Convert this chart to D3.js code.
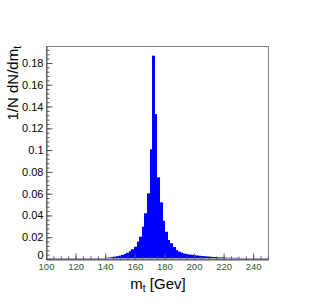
<!DOCTYPE html>
<html>
<head>
<meta charset="utf-8">
<script src="https://cdn.jsdelivr.net/npm/d3@7"></script>
<style>
  html, body { margin: 0; padding: 0; background: #fff; }
  svg { display: block; font-family: "Liberation Sans", Arial, sans-serif; }
</style>
</head>
<body>
<div id="app"></div>
<script>
// histogram of m_t, first bin starts at 100 GeV
const binStart = 100;
const binWidth = 1.75;
const values = [
  0.0002, 0.0002, 0.0002, 0.0002, 0.0002, 0.0002, 0.0002, 0.0002, 0.0002, 0.0002,
  0.0002, 0.0002, 0.0002, 0.0002, 0.0002, 0.0002, 0.0003, 0.0003, 0.0004, 0.0005,
  0.0006, 0.0007, 0.0009, 0.0011, 0.0014, 0.0017, 0.0021, 0.0026, 0.0031, 0.0038,
  0.0047, 0.0058, 0.0072, 0.0090, 0.0113, 0.0160, 0.0205, 0.0297, 0.0420, 0.0603,
  0.1007, 0.1867, 0.1330, 0.0750, 0.0520, 0.0350, 0.0250, 0.0175, 0.0145, 0.0110,
  0.0082, 0.0068, 0.0058, 0.0050, 0.0045, 0.0041, 0.0038, 0.0035, 0.0032, 0.0030,
  0.0027, 0.0025, 0.0023, 0.0021, 0.0019, 0.0018, 0.0016, 0.0015, 0.0014, 0.0013,
  0.0012, 0.0012, 0.0011, 0.0011, 0.0010, 0.0010, 0.0009, 0.0009, 0.0009, 0.0008,
  0.0008, 0.0008, 0.0007, 0.0007, 0.0007, 0.0006
];
const xDomain = [100, 250];
const yDomain = [0, 0.1956];
const xTicks = [100, 120, 140, 160, 180, 200, 220, 240];
const yTicks = [0, 0.02, 0.04, 0.06, 0.08, 0.1, 0.12, 0.14, 0.16, 0.18];
const yTickLabels = ["0", "0.02", "0.04", "0.06", "0.08", "0.1", "0.12", "0.14", "0.16", "0.18"];
const xTitle = "m";
const xTitleSub = "t";
const xTitleRest = " [Gev]";
const yTitle = "1/N dN/dm";
const yTitleSub = "t";

const W = 316, H = 306;
const FRAME = { LEFT: 46, RIGHT: 268, TOP: 46, BOTTOM: 259 };

const svg = d3.select("#app").append("svg").attr("width", W).attr("height", H);

const x = d3.scaleLinear().domain(xDomain).range([FRAME.LEFT, FRAME.RIGHT]);
const y = d3.scaleLinear().domain(yDomain).range([FRAME.BOTTOM, FRAME.TOP]);

// clip
svg.append("clipPath").attr("id", "frameclip")
  .append("rect")
  .attr("x", FRAME.LEFT).attr("y", FRAME.TOP)
  .attr("width", FRAME.RIGHT - FRAME.LEFT).attr("height", FRAME.BOTTOM - FRAME.TOP);

const g = svg.append("g").attr("clip-path", "url(#frameclip)");

// one rect per bin, edges snapped to whole pixels so neighbours touch
const x0 = i => Math.round(x(binStart + i * binWidth));
g.selectAll("rect.bin")
  .data(values)
  .enter()
  .append("rect")
  .attr("class", "bin")
  .attr("x", (d, i) => x0(i))
  .attr("width", (d, i) => x0(i + 1) - x0(i))
  .attr("y", d => y(d))
  .attr("height", d => y(0) - y(d))
  .attr("fill", "#0000ff");

// faint baseline under the near-empty bins
g.append("line")
  .attr("x1", x(xDomain[0])).attr("x2", x(xDomain[1]))
  .attr("y1", y(0) - 0.5).attr("y2", y(0) - 0.5)
  .attr("stroke", "#a0a0c8").attr("stroke-width", 1);

// frame
svg.append("rect")
  .attr("x", FRAME.LEFT + 0.5).attr("y", FRAME.TOP + 0.5)
  .attr("width", FRAME.RIGHT - FRAME.LEFT).attr("height", FRAME.BOTTOM - FRAME.TOP)
  .attr("fill", "none").attr("stroke", "#808080").attr("stroke-width", 1);

// y minor ticks
const yMinor = d3.range(0, 49).map(i => i * 0.004).filter(v => v <= yDomain[1]);
svg.append("g")
  .attr("transform", `translate(${FRAME.LEFT + 0.5},0)`)
  .call(d3.axisLeft(y).tickValues(yMinor).tickFormat("").tickSizeInner(-3).tickSizeOuter(0))
  .call(a => a.select(".domain").remove())
  .selectAll("line").attr("stroke", "#555");

// y major ticks
const yAxis = svg.append("g")
  .attr("transform", `translate(${FRAME.LEFT + 0.5},0)`)
  .call(d3.axisLeft(y).tickValues(yTicks)
    .tickFormat((d, i) => yTickLabels[i])
    .tickSizeInner(-6).tickSizeOuter(0).tickPadding(3));
yAxis.select(".domain").attr("stroke", "#555");
yAxis.selectAll("line").attr("stroke", "#555");
yAxis.selectAll("text").attr("font-size", "11px").attr("fill", "#000")
  .attr("font-family", "Liberation Sans, Arial, sans-serif");
// lift the "0" label a little so it clears the x labels
yAxis.selectAll("text").filter(d => d === 0).attr("dy", "-0.05em");

// x minor ticks
const xMinor = d3.range(100, 251, 5);
svg.append("g")
  .attr("transform", `translate(0,${FRAME.BOTTOM + 0.5})`)
  .call(d3.axisBottom(x).tickValues(xMinor).tickFormat("").tickSizeInner(-3).tickSizeOuter(0))
  .call(a => a.select(".domain").remove())
  .selectAll("line").attr("stroke", "#555");

// x major ticks
const xAxis = svg.append("g")
  .attr("transform", `translate(0,${FRAME.BOTTOM + 0.5})`)
  .call(d3.axisBottom(x).tickValues(xTicks).tickFormat(d3.format("d"))
    .tickSizeInner(-6).tickSizeOuter(0).tickPadding(4));
xAxis.select(".domain").attr("stroke", "#555");
xAxis.selectAll("line").attr("stroke", "#555");
xAxis.selectAll("text").attr("font-size", "9.5px").attr("fill", "#2d5a2d")
  .attr("font-family", "Liberation Sans, Arial, sans-serif");

// x title
const xt = svg.append("text")
  .attr("x", (FRAME.LEFT + FRAME.RIGHT) / 2 + 1)
  .attr("y", 289)
  .attr("text-anchor", "middle")
  .attr("font-size", "15px");
xt.append("tspan").text(xTitle);
xt.append("tspan").attr("font-size", "10px").attr("dy", 3).text(xTitleSub);
xt.append("tspan").attr("dy", -3).text(xTitleRest);

// y title
const yt = svg.append("text")
  .attr("transform", `translate(18,${FRAME.TOP}) rotate(-90)`)
  .attr("text-anchor", "end")
  .attr("font-size", "15px");
yt.append("tspan").text(yTitle);
yt.append("tspan").attr("font-size", "10px").attr("dy", 3).text(yTitleSub);
</script>
</body>
</html>
